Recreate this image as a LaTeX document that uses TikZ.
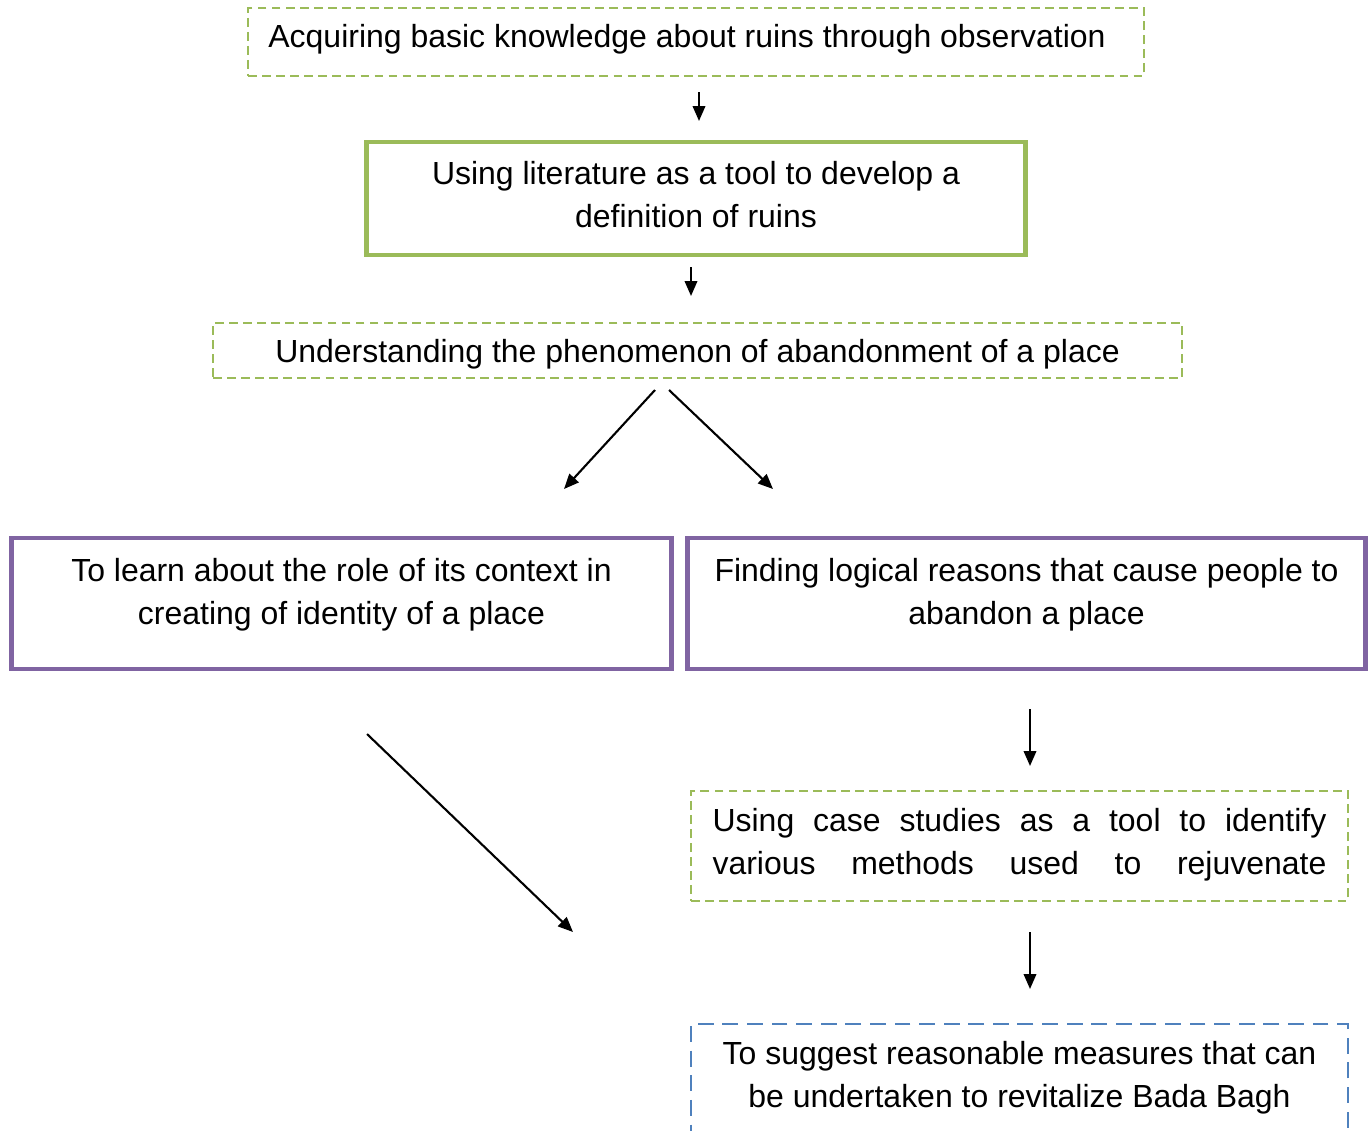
\documentclass[tikz,border=0pt]{standalone}
\usepackage{fontspec}
\setmainfont{Liberation Sans}
\usetikzlibrary{arrows.meta}

\definecolor{olivegreen}{HTML}{9BBB59}
\definecolor{lavender}{HTML}{8064A2}
\definecolor{steelblue}{HTML}{4F81BD}

\tikzset{
  stepfont/.style={font=\fontsize{18.2}{24.5}\selectfont},
  dashbox/.style={draw=olivegreen, line width=1.1pt, dash pattern=on 5pt off 3pt,
    stepfont, align=center, inner sep=0pt},
  litbox/.style={draw=olivegreen, line width=2.8pt, stepfont, align=center, inner sep=0pt},
  ctxbox/.style={draw=lavender, line width=2.8pt, stepfont, align=center, inner sep=0pt},
  goalbox/.style={draw=steelblue, line width=1.1pt, dash pattern=on 9pt off 5pt,
    stepfont, align=center, inner sep=0pt},
  flow/.style={line width=1.2pt, -{Triangle[length=0.3cm, width=0.25cm]}}
}

\begin{document}
\begin{tikzpicture}[x=0.02cm, y=-0.02cm]
        \useasboundingbox (0,0) rectangle (1372,1130);

        \node[dashbox, minimum width=17.92cm, minimum height=1.36cm, text depth=0.24cm] (observe) at (696,42)
          {Acquiring basic knowledge about ruins through observation\hspace*{0.36cm}};
        \node[litbox, minimum width=13.2cm, minimum height=2.26cm, text depth=0.18cm] (literature) at (696,198.5)
          {Using literature as a tool to develop a\\definition of ruins};
        \node[dashbox, minimum width=19.38cm, minimum height=1.1cm, text height=0.62cm] (abandon) at (697.5,350.5)
          {Understanding the phenomenon of abandonment of a place};

        \node[ctxbox, minimum width=13.22cm, minimum height=2.62cm, text depth=0.5cm] (context) at (341.5,603.5)
          {To learn about the role of its context in\\creating of identity of a place};
        \node[ctxbox, minimum width=13.58cm, minimum height=2.62cm, text depth=0.5cm] (reasons) at (1026.5,603.5)
          {Finding logical reasons that cause people to\\abandon a place};

        \node[dashbox, minimum width=13.14cm, minimum height=2.2cm, text depth=0.17cm] (cases) at (1019.5,846)
          {\makebox[12.28cm][s]{Using case studies as a tool to identify}\\
           \makebox[12.28cm][s]{various methods used to rejuvenate}};
        \node[goalbox, anchor=north, minimum width=13.14cm, minimum height=3.2cm, text depth=1.2cm] (measures) at (1019.5,1023)
          {To suggest reasonable measures that can\\be undertaken to revitalize Bada Bagh};

        % free arrow ends
        \coordinate (a1s) at (699,92);   \coordinate (a1e) at (699,121);
        \coordinate (a2s) at (691,267);  \coordinate (a2e) at (691,296);
        \coordinate (a3s) at (655,390);  \coordinate (a3e) at (564,489);
        \coordinate (a4s) at (669,390);  \coordinate (a4e) at (773,489);
        \coordinate (a5s) at (367,734);  \coordinate (a5e) at (573,932);
        \coordinate (a6s) at (1030,709); \coordinate (a6e) at (1030,766);
        \coordinate (a7s) at (1030,932); \coordinate (a7e) at (1030,989);

        \draw[flow] (a1s) -- (a1e);
        \draw[flow] (a2s) -- (a2e);
        \draw[flow] (a3s) -- (a3e);
        \draw[flow] (a4s) -- (a4e);
        \draw[flow] (a5s) -- (a5e);
        \draw[flow] (a6s) -- (a6e);
        \draw[flow] (a7s) -- (a7e);
      \end{tikzpicture}
\end{document}
